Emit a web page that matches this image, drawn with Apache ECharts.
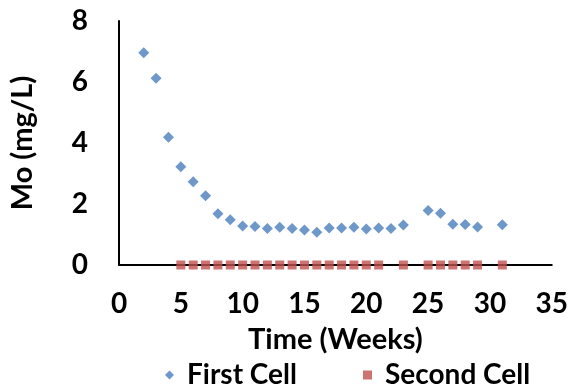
<!DOCTYPE html>
<html><head><meta charset="utf-8">
<script src="https://cdn.jsdelivr.net/npm/echarts@6/dist/echarts.min.js"></script>
<style>html,body{margin:0;padding:0;background:#fff}#c{width:571px;height:388px}</style>
</head><body><div id="c"></div>
<script>
const firstWeeks = [2,3,4,5,6,7,8,9,10,11,12,13,14,15,16,17,18,19,20,21,22,23,25,26,27,28,29,31];
const firstMo = [6.96,6.12,4.19,3.22,2.73,2.27,1.68,1.48,1.28,1.26,1.20,1.24,1.20,1.15,1.07,1.21,1.21,1.24,1.18,1.21,1.20,1.31,1.79,1.70,1.34,1.33,1.25,1.32];
const secondWeeks = [5,6,7,8,9,10,11,12,13,14,15,16,17,18,19,20,21,23,25,26,27,28,29,31];
const secondMo = [0,0,0,0,0,0,0,0,0,0,0,0,0,0,0,0,0,0,0,0,0,0,0,0];
const xTicks = {min:0,max:35,interval:5};
const yTicks = {min:0,max:8,interval:2};

const font = 'Lato';
const fs = 28;
const txt = {color:'#000',fontWeight:'bold',fontSize:fs,fontFamily:font};
const chart = echarts.init(document.getElementById('c'));
chart.setOption({
  animation:false,
  textStyle:{fontFamily:font},
  grid:{left:118,right:18,top:21,bottom:123},
  xAxis:{type:'value',min:xTicks.min,max:xTicks.max,interval:xTicks.interval,
    axisLine:{show:true,onZero:false,lineStyle:{color:'#000',width:2}},
    axisTick:{show:false},splitLine:{show:false},
    axisLabel:Object.assign({margin:25},txt),
    name:'Time (Weeks)',nameLocation:'middle',nameGap:60,
    nameTextStyle:Object.assign({},txt,{fontSize:29})},
  yAxis:{type:'value',min:yTicks.min,max:yTicks.max,interval:yTicks.interval,
    axisLine:{show:true,lineStyle:{color:'#000',width:2}},
    axisTick:{show:false},splitLine:{show:false},
    axisLabel:Object.assign({margin:31},txt),
    name:'Mo (mg/L)',nameLocation:'middle',nameGap:82,
    nameTextStyle:Object.assign({},txt,{fontSize:29})},
  legend:[
    {top:356,left:160,itemWidth:9,itemHeight:9,
      textStyle:Object.assign({},txt,{padding:[0,0,0,8]}),
      data:[{name:'First Cell',icon:'diamond'}]},
    {top:356,left:358,itemWidth:9,itemHeight:9,
      textStyle:Object.assign({},txt,{padding:[0,0,0,8]}),
      data:[{name:'Second Cell',icon:'rect'}]}
  ],
  series:[
    {name:'First Cell',type:'scatter',symbol:'diamond',symbolSize:11,
      itemStyle:{color:'#4A7EBB'},z:2,
      data:firstWeeks.map((w,i)=>[w,firstMo[i]])},
    {name:'Second Cell',type:'scatter',symbol:'rect',symbolSize:9,
      itemStyle:{color:'#C0504D'},z:3,
      data:secondWeeks.map((w,i)=>[w,secondMo[i]])}
  ]
});
</script></body></html>
